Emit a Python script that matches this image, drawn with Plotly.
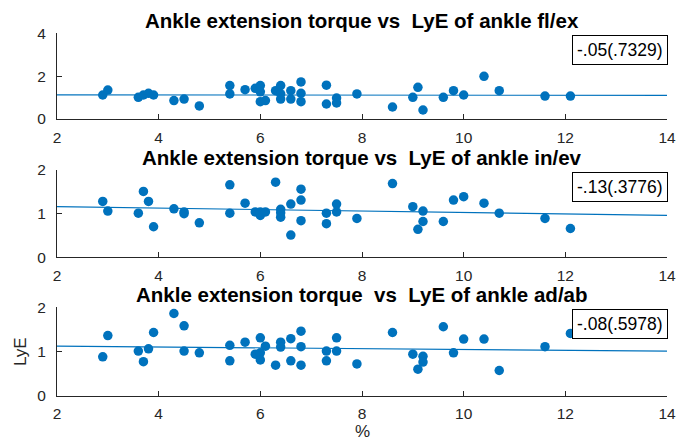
import plotly.graph_objects as go

# ---------------- data ----------------
titles = [
    "Ankle extension torque vs  LyE of ankle fl/ex",
    "Ankle extension torque vs  LyE of ankle in/ev",
    "Ankle extension torque  vs  LyE of ankle ad/ab",
]
corr_labels = ["-.05(.7329)", "-.13(.3776)", "-.08(.5978)"]

x1 = [2.9, 3.0, 3.6, 3.7, 3.8, 3.9, 4.3, 4.5, 4.8, 5.4, 5.4, 5.7, 5.9, 6.0, 6.0, 6.0,
      6.1, 6.3, 6.4, 6.4, 6.4, 6.6, 6.6, 6.8, 6.8, 6.8, 7.3, 7.3, 7.5, 7.5,
      7.9, 8.6, 9.0, 9.1, 9.2, 9.6, 9.8, 10.0, 10.4, 10.7, 11.6, 12.1]
y1 = [1.12, 1.35, 1.01, 1.12, 1.20, 1.12, 0.86, 0.93, 0.61, 1.56, 1.17, 1.37, 1.43, 1.56, 1.27, 0.81,
      0.86, 1.32, 1.56, 1.17, 0.93, 1.32, 0.93, 1.73, 1.20, 0.81, 1.58, 0.70, 0.98, 0.75,
      1.17, 0.56, 1.01, 1.48, 0.42, 1.01, 1.32, 1.12, 1.99, 1.32, 1.07, 1.07]

x2 = [2.9, 3.0, 3.6, 3.7, 3.8, 3.9, 4.3, 4.5, 4.5, 4.8, 5.4, 5.4, 5.7, 5.9, 6.0, 6.0,
      6.1, 6.3, 6.4, 6.4, 6.4, 6.6, 6.6, 6.8, 6.8, 6.8, 7.3, 7.3, 7.5, 7.5,
      7.9, 8.6, 9.0, 9.1, 9.2, 9.2, 9.6, 9.8, 10.0, 10.4, 10.7, 11.6, 12.1]
y2 = [1.28, 1.06, 1.01, 1.51, 1.28, 0.70, 1.11, 1.04, 1.00, 0.79, 1.66, 1.01, 1.24, 1.04, 0.96, 1.04,
      1.04, 1.72, 1.10, 1.02, 0.92, 1.22, 0.51, 1.56, 1.31, 0.84, 1.01, 0.77, 1.22, 1.04,
      0.89, 1.69, 1.16, 0.64, 1.06, 0.82, 0.82, 1.31, 1.39, 1.24, 1.01, 0.89, 0.66]

x3 = [2.9, 3.0, 3.6, 3.7, 3.8, 3.9, 4.3, 4.5, 4.5, 4.8, 5.4, 5.4, 5.7, 5.9, 6.0, 6.0, 6.0,
      6.1, 6.3, 6.4, 6.4, 6.6, 6.6, 6.8, 6.8, 6.8, 7.3, 7.3, 7.5, 7.5,
      7.9, 8.6, 9.0, 9.1, 9.2, 9.2, 9.6, 9.8, 10.0, 10.4, 10.7, 11.6, 12.1]
y3 = [0.88, 1.36, 1.01, 0.77, 1.06, 1.43, 1.86, 1.58, 1.01, 0.97, 1.14, 0.79, 1.21, 0.94, 1.31, 0.97, 0.81,
      1.12, 0.69, 1.21, 1.10, 1.29, 0.79, 1.46, 1.11, 0.69, 1.01, 0.79, 1.31, 1.01,
      0.72, 1.43, 0.94, 0.60, 0.89, 0.76, 1.56, 0.97, 1.28, 1.28, 0.57, 1.11, 1.41]

fit_x = [2, 14]
fit1 = [1.13, 1.10]
fit2 = [1.16, 0.96]
fit3 = [1.12, 1.01]

y_ranges = [[0, 4], [0, 2], [0, 2]]
y_dticks = [2, 1, 1]
x_ticks = [2, 4, 6, 8, 10, 12, 14]

xs = [x1, x2, x3]
ys = [y1, y2, y3]
fits = [fit1, fit2, fit3]

# ---------------- layout geometry (window pixels) ----------------
OFF = 8                      # default body margin of the page
W, H = 696 - 2 * OFF, 444 - OFF
left_px, right_px = 57, 667
panels_px = [(33.3, 119.0), (170.0, 257.3), (307.3, 395.7)]  # (top, bottom)


def px(v):
    return (v - OFF) / W


def py(v):
    return 1 - (v - OFF) / H


BLUE = "#0072BD"
AX = "#262626"
FONT = "Liberation Sans, Arial, Helvetica, sans-serif"

fig = go.Figure()
annotations = []

for i in range(3):
    ax = "" if i == 0 else str(i + 1)
    xa, ya = "x" + ax, "y" + ax
    fig.add_trace(go.Scatter(
        x=xs[i], y=ys[i], mode="markers", xaxis=xa, yaxis=ya,
        marker=dict(color=BLUE, size=9.5, line=dict(width=0)), showlegend=False))
    fig.add_trace(go.Scatter(
        x=fit_x, y=fits[i], mode="lines", xaxis=xa, yaxis=ya,
        line=dict(color=BLUE, width=1.2), showlegend=False))

    top, bot = panels_px[i]
    common = dict(showline=True, linecolor=AX, linewidth=1, ticks="inside",
                  ticklen=5, tickcolor=AX, showgrid=False, zeroline=False,
                  tickfont=dict(family=FONT, size=15.5, color=AX), automargin=False)
    fig.layout["xaxis" + ax] = dict(domain=[px(left_px), px(right_px)], range=[2, 14],
                                    tickvals=x_ticks, anchor=ya, ticklabelstandoff=4, **common)
    fig.layout["yaxis" + ax] = dict(domain=[py(bot), py(top)], range=y_ranges[i],
                                    dtick=y_dticks[i], anchor=xa, ticklabelstandoff=7, **common)

    # title
    annotations.append(dict(text="<b>" + titles[i] + "</b>", xref="paper", yref="paper",
                            x=px((left_px + right_px) / 2), y=py(top - 13),
                            xanchor="center", yanchor="middle", showarrow=False,
                            font=dict(family=FONT, size=20.5, color="black")))
    # correlation box
    annotations.append(dict(text=corr_labels[i], xref="paper", yref="paper",
                            x=px(668), y=py(top + 2), xanchor="right", yanchor="top",
                            showarrow=False, bordercolor="black", borderwidth=1,
                            borderpad=4, bgcolor="white",
                            font=dict(family=FONT, size=17.5, color="black")))

annotations.append(dict(text="LyE", xref="paper", yref="paper", x=px(20), y=py(352),
                        textangle=-90, showarrow=False, xanchor="center", yanchor="middle",
                        font=dict(family=FONT, size=17, color=AX)))
annotations.append(dict(text="%", xref="paper", yref="paper", x=px(362), y=py(431),
                        showarrow=False, xanchor="center", yanchor="middle",
                        font=dict(family=FONT, size=17, color=AX)))

fig.update_layout(width=W, height=H, margin=dict(l=0, r=0, t=0, b=0),
                  paper_bgcolor="white", plot_bgcolor="white",
                  annotations=annotations, showlegend=False)

fig.write_html("out.html")
